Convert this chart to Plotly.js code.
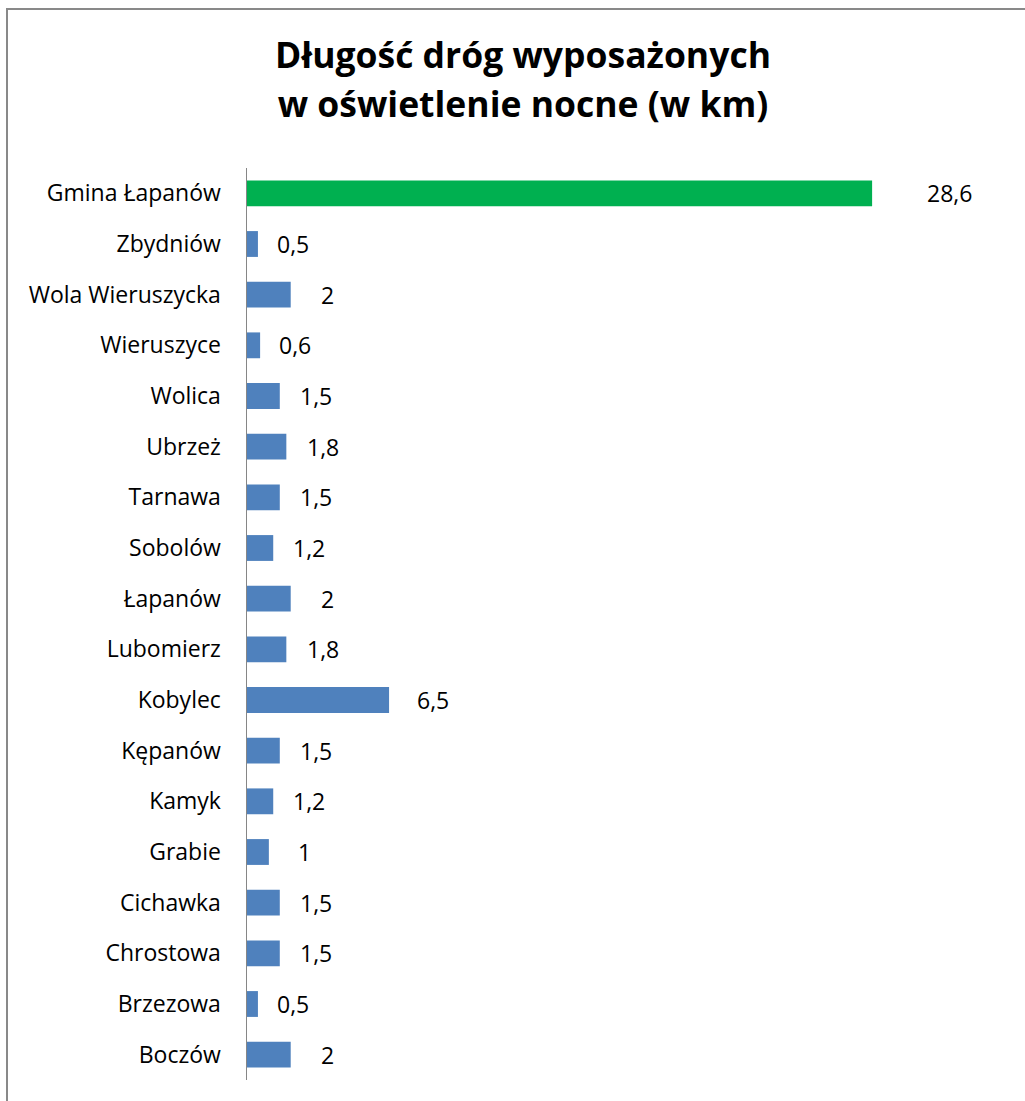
<!DOCTYPE html>
<html>
<head>
<meta charset="utf-8">
<script src="https://cdn.plot.ly/plotly-3.0.1.min.js"></script>
<style>
  html, body { margin: 0; padding: 0; background: #fff; }
  #chart { width: 1025px; height: 1101px; }
</style>
</head>
<body>
<div id="chart"></div>
<script>
// Data (top-to-bottom order as in the chart)
const categories = [
  'Gmina Łapanów', 'Zbydniów', 'Wola Wieruszycka', 'Wieruszyce', 'Wolica',
  'Ubrzeż', 'Tarnawa', 'Sobolów', 'Łapanów', 'Lubomierz', 'Kobylec',
  'Kępanów', 'Kamyk', 'Grabie', 'Cichawka', 'Chrostowa', 'Brzezowa', 'Boczów'
];
const values = [28.6, 0.5, 2, 0.6, 1.5, 1.8, 1.5, 1.2, 2, 1.8, 6.5, 1.5, 1.2, 1, 1.5, 1.5, 0.5, 2];
const totalCategory = 'Gmina Łapanów';
const titleLines = ['Długość dróg wyposażonych', 'w oświetlenie nocne (w km)'];

// Styles
const GREEN = '#00B050';
const BLUE = '#4F81BD';
const FONT = '"Open Sans", "Noto Sans", sans-serif';
const barColors = categories.map(c => c === totalCategory ? GREEN : BLUE);

const fmt = v => String(v).replace('.', ',');

const trace = {
  type: 'bar',
  orientation: 'h',
  x: values,
  y: categories,
  marker: { color: barColors, line: { width: 0 } },
  hoverinfo: 'none',
  cliponaxis: false
};

const annotations = values.map((v, i) => ({
  x: v,
  y: categories[i],
  xref: 'x',
  yref: 'y',
  text: fmt(v),
  showarrow: false,
  xanchor: 'center',
  yanchor: 'middle',
  xshift: 34 + 1.5 * v,
  yshift: 0,
  font: { family: FONT, size: 23, color: '#000' }
}));

// Outer chart border (pixel positions converted to paper coords)
const L = 247, R = 13, T = 168, B = 21, W = 1025, H = 1101;
const pw = W - L - R, ph = H - T - B;
const px2x = p => (p - L) / pw;
const py2y = p => (H - B - p) / ph;

const layout = {
  width: W,
  height: H,
  margin: { l: L, r: R, t: T, b: B, pad: 0 },
  paper_bgcolor: '#fff',
  plot_bgcolor: '#fff',
  showlegend: false,
  bargap: 0.49,
  font: { family: FONT, size: 23, color: '#000' },
  title: {
    text: '<span style="font-size:35.5px">' + titleLines[0] + '</span><br><span style="font-size:35.5px">' + titleLines[1] + '</span>',
    font: { family: FONT, size: 38, color: '#000', weight: 'bold' },
    x: 523 / W,
    xanchor: 'center',
    xref: 'container',
    yref: 'container',
    y: 1 - 68 / H,
    yanchor: 'top'
  },
  xaxis: {
    range: [0, 35],
    visible: false,
    fixedrange: true
  },
  yaxis: {
    type: 'category',
    range: [17.5, -0.5],
    showline: true,
    linecolor: '#868686',
    linewidth: 1.5,
    showgrid: false,
    zeroline: false,
    ticks: '',
    ticklabelstandoff: 20,
    tickfont: { family: FONT, size: 23, color: '#000' },
    fixedrange: true
  },
  annotations: annotations,
  shapes: [{
    type: 'rect',
    xref: 'paper', yref: 'paper',
    x0: px2x(7), x1: px2x(1040),
    y0: py2y(1120), y1: py2y(9),
    line: { color: '#898989', width: 2 },
    fillcolor: 'rgba(0,0,0,0)',
    layer: 'below'
  }]
};

Plotly.newPlot('chart', [trace], layout, { displayModeBar: false, staticPlot: true });
</script>
</body>
</html>
